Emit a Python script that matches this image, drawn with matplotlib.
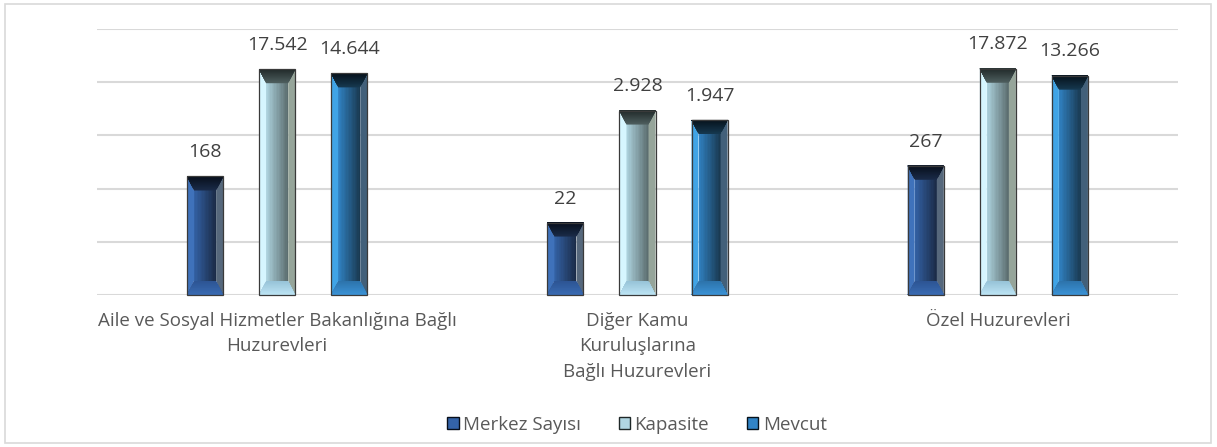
import numpy as np
import matplotlib
matplotlib.use("Agg")
import matplotlib.pyplot as plt
from matplotlib.patches import Polygon, Rectangle, Patch
from matplotlib.transforms import IdentityTransform
from matplotlib.colors import to_rgb

categories = ["Aile ve Sosyal Hizmetler Bakanlığına Bağlı\nHuzurevleri",
              "Diğer Kamu\nKuruluşlarına\nBağlı Huzurevleri",
              "Özel Huzurevleri"]
series_names = ["Merkez Sayısı", "Kapasite", "Mevcut"]
merkez = [168, 22, 267]
kapasite = [17542, 2928, 17872]
mevcut = [14644, 1947, 13266]
value_labels = [["168", "22", "267"], ["17.542", "2.928", "17.872"], ["14.644", "1.947", "13.266"]]

# colour schemes per series
schemes = [
    dict(left="#3f72bb", f0="#3463a8", f1="#1b2c48", right="#56687c", t0="#070e1a", t1="#1a2b48", b0="#3a6cb4", b1="#2d5594"),
    dict(left="#d6f6ff", f0="#b0d6e2", f1="#5c6e70", right="#96a59a", t0="#1f2828", t1="#4e5e5e", b0="#bfe6f6", b1="#98c4d8"),
    dict(left="#40a4e6", f0="#3184c6", f1="#1a3a52", right="#42607a", t0="#06111a", t1="#16384f", b0="#3c94d8", b1="#2d74ac"),
]

plt.rcParams['font.family'] = ['Open Sans', 'DejaVu Sans']
fig = plt.figure(figsize=(12.17, 4.47), dpi=100)
W, H = 1217, 447
ax = fig.add_axes([97 / W, 1 - 295 / H, (1178 - 97) / W, (295 - 29) / H])
ax.set_yscale('log')
ax.set_ylim(1, 1e5)
ax.set_xlim(-0.5, 2.5)
ax.set_yticks([1, 10, 100, 1000, 10000, 100000])
ax.yaxis.set_major_formatter(matplotlib.ticker.NullFormatter())
ax.yaxis.set_minor_locator(matplotlib.ticker.NullLocator())
ax.tick_params(axis='y', length=0)
ax.grid(axis='y', color='#d9d9d9', lw=1.5)
ax.set_axisbelow(True)
for s in ax.spines.values():
    s.set_visible(False)

x = np.arange(len(categories))
width = 0.1
offsets = [-0.2, 0.0, 0.2]
series = [merkez, kapasite, mevcut]
bar_groups = []
for i, vals in enumerate(series):
    bars = ax.bar(x + offsets[i], vals, width, bottom=1, color=schemes[i]["f0"],
                  edgecolor='none', zorder=2)
    bar_groups.append(bars)
    for j, b in enumerate(bars):
        ax.annotate(value_labels[i][j], (b.get_x() + b.get_width() / 2, vals[j]),
                    xytext=(0, 17.5), textcoords='offset points', ha='center', va='center',
                    fontsize=14, color='#404040')

ax.set_xticks(x)
ax.set_xticklabels(categories, fontsize=13.5, color='#595959', linespacing=1.55)
ax.tick_params(axis='x', length=0, pad=12)

fig.canvas.draw()


def mix(c0, c1, t):
    a = np.array(to_rgb(c0)); b = np.array(to_rgb(c1))
    return tuple(a + (b - a) * t)


def bevel(Lx, Rx, By, Ty, sc, bw=7, bh=14, n=16):
    bh = min(bh, (Ty - By) / 3)
    arts = []
    fx0, fx1 = Lx + bw, Rx - bw
    # face: nested rectangles from the left for a seamless horizontal gradient
    for k in range(n):
        t = 1 - k / n
        c = mix(sc["f0"], sc["f1"], t)
        xr = fx0 + (fx1 - fx0) * t
        arts.append(Polygon([(fx0, By), (xr, By), (xr, Ty), (fx0, Ty)], fc=c, ec='none'))
    arts.append(Polygon([(Lx, By), (Lx + bw, By + bh), (Lx + bw, Ty - bh), (Lx, Ty)], fc=sc["left"], ec='none'))
    arts.append(Polygon([(Rx, By), (Rx - bw, By + bh), (Rx - bw, Ty - bh), (Rx, Ty)], fc=sc["right"], ec='none'))
    # top trapezoid: nested from the top edge, darker near the top
    for k in range(n):
        t = 1 - k / n
        c = mix(sc["t0"], sc["t1"], t)
        arts.append(Polygon([(Lx, Ty), (Rx, Ty), (Rx - bw * t, Ty - bh * t), (Lx + bw * t, Ty - bh * t)],
                            fc=c, ec='none'))
    # bottom trapezoid
    for k in range(n):
        t = 1 - k / n
        c = mix(sc["b0"], sc["b1"], t)
        arts.append(Polygon([(Lx, By), (Rx, By), (Rx - bw * t, By + bh * t), (Lx + bw * t, By + bh * t)],
                            fc=c, ec='none'))
    arts.append(Polygon([(Lx, By), (Rx, By), (Rx, Ty), (Lx, Ty)], fc='none', ec='#3a3a3a', lw=0.9))
    return arts


for i, bars in enumerate(bar_groups):
    for b in bars:
        bb = b.get_window_extent()
        for a in bevel(bb.x0, bb.x1, bb.y0, bb.y1, schemes[i]):
            a.set_transform(IdentityTransform())
            a.set_zorder(3)
            a.set_clip_on(False)
            ax.add_artist(a)
        b.set_visible(False)

# legend
handles = [Patch(facecolor=schemes[i]["f0"], edgecolor=schemes[i]["t0"], label=series_names[i]) for i in range(3)]
fig.legend(handles=handles, loc='center', bbox_to_anchor=(637 / W, 1 - 425 / H), ncol=3, frameon=False,
           fontsize=13.5, labelcolor='#595959', handlelength=0.6, handleheight=0.6, handletextpad=0.25,
           columnspacing=2.0)

# outer border
fig.patches.append(Rectangle((5 / W, 4 / H), (1211 - 5) / W, (443 - 4) / H, transform=fig.transFigure,
                             fill=False, ec='#d9d9d9', lw=1.2))

fig.savefig("out.png", dpi=100, facecolor='white')
